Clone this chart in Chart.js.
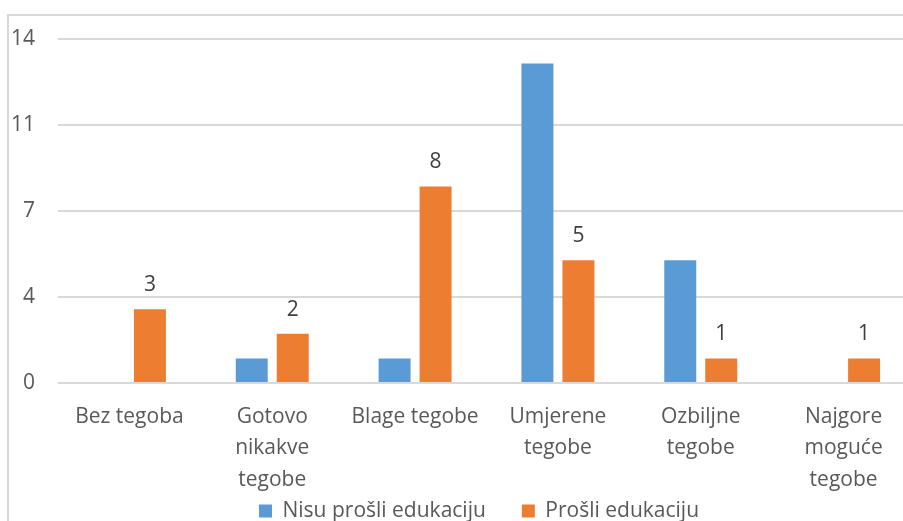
<!DOCTYPE html>
<html>
<head>
<meta charset="utf-8">
<script src="https://cdn.jsdelivr.net/npm/chart.js@4"></script>
<style>
    html, body { margin: 0; padding: 0; background: #fff; overflow: hidden; }
    #wrap {
        position: absolute;
        left: 7px;
        top: 14px;
        border: 2px solid #d9d9d9;
        width: 918px;
        height: 566px;
    }
    canvas { display: block; }
</style>
</head>
<body>
<div id="wrap"><canvas id="chart" width="918" height="566"></canvas></div>
<script>
const categories = [
    "Bez tegoba",
    ["Gotovo", "nikakve", "tegobe"],
    "Blage tegobe",
    ["Umjerene", "tegobe"],
    ["Ozbiljne", "tegobe"],
    ["Najgore", "moguće", "tegobe"],
];
const seriesNames = ["Nisu prošli edukaciju", "Prošli edukaciju"];
const notEducated = [0, 1, 1, 13, 5, 0];
const educated = [3, 2, 8, 5, 1, 1];
const yTicks = [0, 3.5, 7, 10.5, 14];

const FONT = "'Open Sans', 'Noto Sans', sans-serif";
const FONT_SIZE = 21;
const LEGEND_PAD = 36;
const LEGEND_Y = 495;     // centre of the legend row, canvas px
const LEGEND_SHIFT = 17;  // legend sits a little right of the canvas centre

// value labels above the orange bars only
const barLabels = {
    id: "barLabels",
    afterLayout(chart) {
        // legend padding is wide for the gap between items, so pull the row up
        const lg = chart.legend;
        lg.top = LEGEND_Y - LEGEND_PAD - FONT_SIZE / 2;
        lg.left += LEGEND_SHIFT;
        lg.right += LEGEND_SHIFT;
    },
    afterDatasetsDraw(chart) {
        const ctx = chart.ctx;
        const meta = chart.getDatasetMeta(1);
        ctx.save();
        ctx.font = FONT_SIZE + "px " + FONT;
        ctx.fillStyle = "#404040";
        ctx.textAlign = "center";
        ctx.textBaseline = "middle";
        meta.data.forEach((bar, i) => {
            ctx.fillText(String(educated[i]), bar.x, bar.y - 24);
        });
        ctx.restore();
    }
};

new Chart(document.getElementById("chart"), {
    type: "bar",
    data: {
        labels: categories,
        datasets: [
            {
                label: seriesNames[0],
                data: notEducated,
                backgroundColor: "#5b9bd5",
                borderWidth: 0,
                categoryPercentage: 0.574,
                barPercentage: 0.78,
            },
            {
                label: seriesNames[1],
                data: educated,
                backgroundColor: "#ed7d31",
                borderWidth: 0,
                categoryPercentage: 0.574,
                barPercentage: 0.78,
            }
        ]
    },
    options: {
        responsive: false,
        animation: false,
        layout: { padding: { top: 23, right: 12, left: 0, bottom: 0 } },
        scales: {
            y: {
                min: 0,
                max: 14,
                afterFit: (scale) => {
                    scale.width = 49;
                    // tick padding would otherwise push the plot top down
                    scale.paddingTop = 0;
                    scale.paddingBottom = 0;
                },
                afterBuildTicks: (scale) => {
                    scale.ticks = yTicks.map(v => ({ value: v }));
                },
                ticks: {
                    padding: 23,
                    color: "#595959",
                    font: { family: FONT, size: FONT_SIZE },
                    callback: (v) => Math.round(v),
                },
                grid: { color: "#d9d9d9", lineWidth: 2, drawTicks: false },
                border: { display: false },
            },
            x: {
                afterFit: (scale) => { scale.height = 132; },
                ticks: {
                    padding: 18,
                    color: "#595959",
                    maxRotation: 0,
                    autoSkip: false,
                    font: { family: FONT, size: FONT_SIZE, lineHeight: 1.5 },
                },
                grid: { display: false, drawTicks: false },
                border: { display: false },
            }
        },
        plugins: {
            legend: {
                position: "bottom",
                labels: {
                    boxWidth: 13,
                    boxHeight: 13,
                    padding: LEGEND_PAD,
                    color: "#595959",
                    font: { family: FONT, size: FONT_SIZE },
                }
            },
            tooltip: { enabled: false }
        }
    },
    plugins: [barLabels]
});
</script>
</body>
</html>
